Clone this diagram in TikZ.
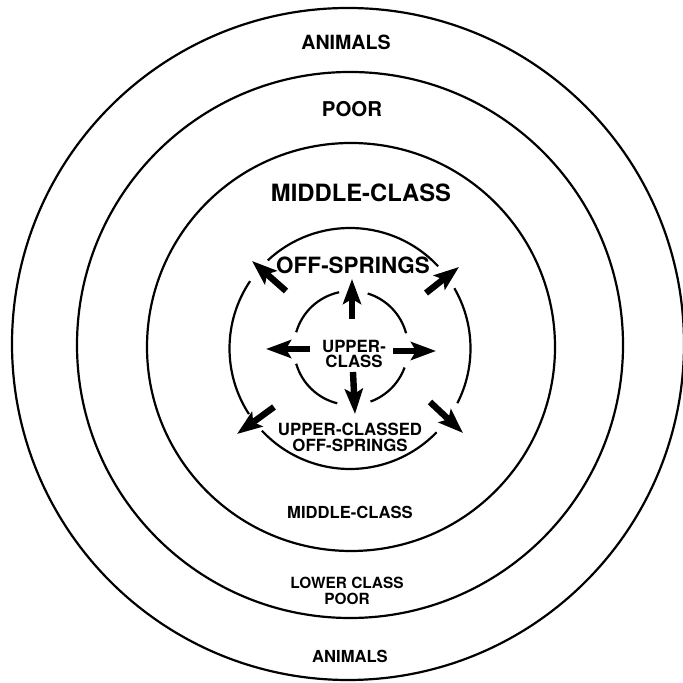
\documentclass[tikz,border=0pt]{standalone}
\usepackage{fontspec}
\setmainfont{TeX Gyre Heros}
\usetikzlibrary{arrows.meta}
\begin{document}
\begin{tikzpicture}[x=0.5pt,y=0.5pt,
  ring/.style={line width=1.1pt},
  lbl/.style={inner sep=0pt, align=center},
  fatarrow/.style={line width=3.2pt, -{Stealth[length=12.5pt,width=9pt,inset=2.5pt]}},
]
\fill[white] (0,0) rectangle (683,683);
\useasboundingbox (0,0) rectangle (683,683);
% centres
\coordinate (c1) at (348,339);
\coordinate (c2) at (350,338);
\coordinate (c3) at (351,336);
\coordinate (c4) at (350,334.5);
\coordinate (c5) at (351,335);
% full rings
\draw[ring] (c1) circle[radius=168pt];
\draw[ring] (c2) circle[radius=136.5pt];
\draw[ring] (c3) circle[radius=102pt];
% broken off-springs ring
\draw[ring] (c4) ++(43:60.25pt) arc[start angle=43, end angle=133, radius=60.25pt];
\draw[ring] (c4) ++(146:60.25pt) arc[start angle=146, end angle=213, radius=60.25pt];
\draw[ring] (c4) ++(-27:60.25pt) arc[start angle=-27, end angle=30, radius=60.25pt];
\draw[ring] (c4) ++(223:60.25pt) arc[start angle=223, end angle=316, radius=60.25pt];
% broken upper-class ring
\draw[ring] (c5) ++(15:28.5pt) arc[start angle=15, end angle=73, radius=28.5pt];
\draw[ring] (c5) ++(102:28.5pt) arc[start angle=102, end angle=164, radius=28.5pt];
\draw[ring] (c5) ++(196:28.5pt) arc[start angle=196, end angle=256, radius=28.5pt];
\draw[ring] (c5) ++(290:28.5pt) arc[start angle=290, end angle=340, radius=28.5pt];
% arrows
\coordinate (uT) at (352,364); \coordinate (uH) at (352,404);
\coordinate (lT) at (310,334); \coordinate (lH) at (266,334);
\coordinate (rT) at (393,332); \coordinate (rH) at (436,332);
\coordinate (dT) at (353,311); \coordinate (dH) at (355,269);
\coordinate (ulT) at (286,392); \coordinate (ulH) at (252,422);
\coordinate (urT) at (426,390); \coordinate (urH) at (459,416);
\coordinate (llT) at (274,276); \coordinate (llH) at (237,249);
\coordinate (lrT) at (430,281); \coordinate (lrH) at (463,250);
\foreach \a in {u,l,r,d,ul,ur,ll,lr}{\draw[fatarrow] (\a T) -- (\a H);}
% labels
\node[lbl, font=\bfseries\fontsize{9.8pt}{12pt}\selectfont] (animalsTop) at (346,641) {ANIMALS};
\node[lbl, font=\bfseries\fontsize{10.2pt}{12pt}\selectfont] (poorTop) at (352,573.5) {POOR};
\node[lbl, font=\bfseries\fontsize{11.9pt}{14pt}\selectfont] (midTop) at (361,490) {MIDDLE-CLASS};
\node[lbl, font=\bfseries\fontsize{11.2pt}{14pt}\selectfont] (offTop) at (353,418) {OFF-SPRINGS};
\node[lbl, font=\bfseries\fontsize{8.4pt}{7.5pt}\selectfont] (upper) at (354,329) {UPPER-\\CLASS};
\node[lbl, font=\bfseries\fontsize{8.4pt}{8pt}\selectfont] (upperOff) at (350,246) {UPPER-CLASSED\\OFF-SPRINGS};
\node[lbl, font=\bfseries\fontsize{8.3pt}{10pt}\selectfont] (midBot) at (350,171) {MIDDLE-CLASS};
\node[lbl, font=\bfseries\fontsize{7.7pt}{8pt}\selectfont] (lower) at (347,92.5) {LOWER CLASS\\POOR};
\node[lbl, font=\bfseries\fontsize{8.3pt}{10pt}\selectfont] (animalsBot) at (350,27) {ANIMALS};
\end{tikzpicture}
\end{document}
